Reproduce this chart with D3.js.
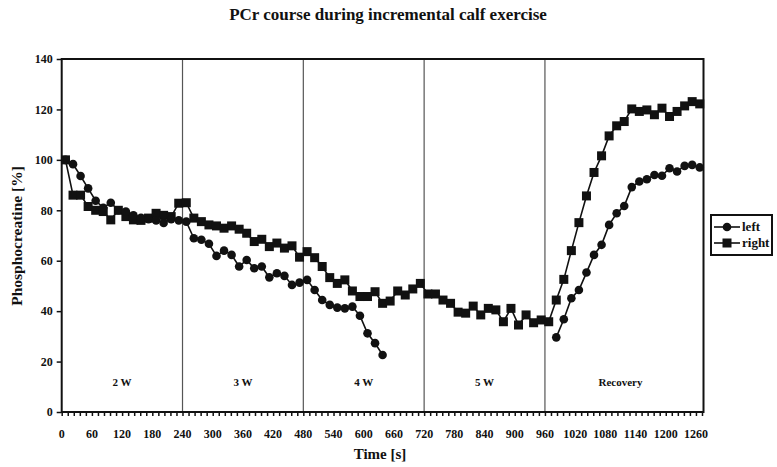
<!DOCTYPE html>
<html>
<head>
<meta charset="utf-8">
<script src="https://cdn.jsdelivr.net/npm/d3@7"></script>
<style>
  body { margin: 0; background: #fff; }
  svg text { font-family: "Liberation Serif", "Times New Roman", serif; font-weight: bold; fill: #111; }
</style>
</head>
<body>
<svg id="chart"></svg>
<script>
// data (time in s = middle of each 15 s spectrum)
let timeRight = [7.5, 22.5, 37.5, 52.5, 67.5, 82.5, 97.5, 112.5, 127.5, 142.5, 157.5, 172.5, 187.5, 202.5, 217.5, 232.5, 247.5,
  262.5, 277.5, 292.5, 307.5, 322.5, 337.5, 352.5, 367.5, 382.5, 397.5, 412.5, 427.5, 442.5, 457.5, 472.5, 487.5,
  502.5, 517.5, 532.5, 547.5, 562.5, 577.5, 592.5, 607.5, 622.5, 637.5, 652.5, 667.5, 682.5, 697.5, 712.5,
  727.5, 742.5, 757.5, 772.5, 787.5, 802.5, 817.5, 832.5, 847.5, 862.5, 877.5, 892.5, 907.5, 922.5, 937.5, 952.5, 967.5,
  982.5, 997.5, 1012.5, 1027.5, 1042.5, 1057.5, 1072.5, 1087.5, 1102.5, 1117.5, 1132.5, 1147.5, 1162.5, 1177.5, 1192.5,
  1207.5, 1222.5, 1237.5, 1252.5, 1267.5]
let pcrRight = [100, 86, 86, 81.5, 80, 79.5, 76.2, 80, 77.5, 76.2, 76, 76.9, 78.8, 78, 77.5, 82.8, 83,
  76.9, 75.5, 74.2, 73.8, 72.9, 73.8, 72.5, 70.9, 67.6, 68.5, 65.6, 67, 65, 65.9, 61.4, 63.6,
  61.2, 57.7, 53.3, 51, 52.4, 48, 45.8, 45.8, 47.7, 43.1, 44, 48, 46.4, 48.8, 51,
  46.8, 46.8, 44.4, 43.1, 39.6, 39.2, 42, 38.5, 41.1, 40.5, 35.8, 41.1, 34.5, 38.5, 35.4, 36.5, 35.8,
  44.4, 52.6, 64, 75.1, 85.7, 95, 101.6, 109.5, 113.5, 115.2, 120.2, 119.2, 119.8, 117.9, 120.5,
  117.2, 119.2, 121.4, 123.1, 122.2]

// left leg: exercise part stops at ~640 s, recovery starts at ~980 s (null = gap)
let timeLeft = [7.5, 22.5, 37.5, 52.5, 67.5, 82.5, 97.5, 112.5, 127.5, 142.5, 157.5, 172.5, 187.5, 202.5, 217.5, 232.5, 247.5,
  262.5, 277.5, 292.5, 307.5, 322.5, 337.5, 352.5, 367.5, 382.5, 397.5, 412.5, 427.5, 442.5, 457.5, 472.5, 487.5,
  502.5, 517.5, 532.5, 547.5, 562.5, 577.5, 592.5, 607.5, 622.5, 637.5,
  800,
  982.5, 997.5, 1012.5, 1027.5, 1042.5, 1057.5, 1072.5, 1087.5, 1102.5, 1117.5, 1132.5, 1147.5, 1162.5, 1177.5, 1192.5,
  1207.5, 1222.5, 1237.5, 1252.5, 1267.5]
let pcrLeft = [100, 98.3, 93.6, 88.7, 83.8, 81, 83, 80, 79.5, 78, 77, 76.5, 76, 75, 76.5, 76, 75.5,
  68.9, 68.3, 66.7, 61.9, 64, 62.3, 57.7, 60.3, 57, 57.7, 53.4, 55, 54, 50.4, 51.3, 52.4,
  48.4, 44.4, 42.5, 41.4, 41.1, 41.8, 38.2, 31.2, 27.3, 22.6,
  null,
  29.6, 36.8, 45.1, 48.4, 55.3, 62.3, 66.3, 74.2, 78.8, 81.7, 89.2, 91.4, 92.3, 94, 93.7,
  96.7, 95.4, 97.6, 98, 97]

let phaseEdges = [240, 480, 720, 960]
let phaseLabels = ['2 W', '3 W', '4 W', '5 W', 'Recovery']
let phaseMids = [120, 360, 600, 840, 1110]
let xTickLabels = [0, 60, 120, 180, 240, 300, 360, 420, 480, 540, 600, 660, 720, 780, 840, 900, 960, 1020, 1080, 1140, 1200, 1260]
let yTickLabels = [0, 20, 40, 60, 80, 100, 120, 140]

// canvas
let width = 777
let height = 467
let plot = { left: 61.7, right: 703.5, top: 59, bottom: 412 }

let svg = d3.select('#chart').attr('width', width).attr('height', height)

let xScale = d3.scaleLinear().domain([0, 1275]).range([plot.left, plot.right])
let yScale = d3.scaleLinear().domain([0, 140]).range([plot.bottom, plot.top])

// title
svg.append('text')
  .attr('x', 388).attr('y', 20)
  .attr('text-anchor', 'middle')
  .style('font-size', '17px')
  .text('PCr course during incremental calf exercise')

// phase dividers
svg.selectAll('.divider')
  .data(phaseEdges)
  .enter()
  .append('line')
  .attr('class', 'divider')
  .attr('x1', d => xScale(d)).attr('x2', d => xScale(d))
  .attr('y1', plot.top).attr('y2', plot.bottom)
  .attr('stroke', '#555').attr('stroke-width', 1.2)

svg.selectAll('.phase')
  .data(phaseLabels)
  .enter()
  .append('text')
  .attr('class', 'phase')
  .attr('x', (d, i) => xScale(phaseMids[i]))
  .attr('y', 386)
  .attr('text-anchor', 'middle')
  .style('font-size', '11px')
  .text(d => d)

// axes
let xAxis = d3.axisBottom(xScale)
  .tickValues(d3.range(0, 1273, 12))
  .tickSize(4)
  .tickFormat('')
let gx = svg.append('g')
  .attr('transform', `translate(0,${plot.bottom})`)
  .call(xAxis)
gx.select('.domain').remove()
gx.selectAll('line').attr('stroke', '#111').attr('stroke-width', 1.5)

svg.selectAll('.xlab')
  .data(xTickLabels)
  .enter()
  .append('text')
  .attr('class', 'xlab')
  .attr('x', d => xScale(d))
  .attr('y', 438)
  .attr('text-anchor', 'middle')
  .style('font-size', '12px')
  .text(d => d)

let yAxis = d3.axisLeft(yScale)
  .tickValues(yTickLabels)
  .tickSize(5)
  .tickPadding(4)
let gy = svg.append('g')
  .attr('transform', `translate(${plot.left},0)`)
  .call(yAxis)
gy.select('.domain').remove()
gy.selectAll('line').attr('stroke', '#111').attr('stroke-width', 1.5)
gy.selectAll('text')
  .style('font-family', '"Liberation Serif", serif')
  .style('font-weight', 'bold')
  .style('font-size', '12px')
  .attr('fill', '#111')

// frame
svg.append('rect')
  .attr('x', plot.left).attr('y', plot.top)
  .attr('width', plot.right - plot.left)
  .attr('height', plot.bottom - plot.top)
  .attr('fill', 'none')
  .attr('stroke', '#111').attr('stroke-width', 2)

// axis titles
svg.append('text')
  .attr('x', 380).attr('y', 459)
  .attr('text-anchor', 'middle')
  .style('font-size', '15px')
  .text('Time [s]')

svg.append('text')
  .attr('transform', 'translate(22,236) rotate(-90)')
  .attr('text-anchor', 'middle')
  .style('font-size', '15.5px')
  .text('Phosphocreatine [%]')

// series
let rightData = timeRight.map((t, i) => ({ t: t, v: pcrRight[i] }))
let leftData = timeLeft.map((t, i) => ({ t: t, v: pcrLeft[i] }))

let line = d3.line()
  .defined(d => d.v !== null)
  .x(d => xScale(d.t))
  .y(d => yScale(d.v))

svg.append('path').datum(rightData)
  .attr('d', line).attr('fill', 'none')
  .attr('stroke', '#111').attr('stroke-width', 1.6)
svg.append('path').datum(leftData)
  .attr('d', line).attr('fill', 'none')
  .attr('stroke', '#111').attr('stroke-width', 1.6)

let sq = 9
svg.selectAll('.sq')
  .data(rightData)
  .enter()
  .append('rect')
  .attr('class', 'sq')
  .attr('x', d => xScale(d.t) - sq / 2)
  .attr('y', d => yScale(d.v) - sq / 2)
  .attr('width', sq).attr('height', sq)
  .attr('fill', '#111')

svg.selectAll('.dot')
  .data(leftData.filter(d => d.v !== null))
  .enter()
  .append('circle')
  .attr('class', 'dot')
  .attr('cx', d => xScale(d.t))
  .attr('cy', d => yScale(d.v))
  .attr('r', 4.3)
  .attr('fill', '#111')

// legend
let legend = svg.append('g').attr('transform', 'translate(711,215)')
legend.append('rect')
  .attr('width', 61).attr('height', 40)
  .attr('fill', '#fff')
  .attr('stroke', '#111').attr('stroke-width', 2)
let legendItems = ['left', 'right']
legendItems.forEach((name, i) => {
  let y = 12 + i * 16
  legend.append('line')
    .attr('x1', 3).attr('x2', 29).attr('y1', y).attr('y2', y)
    .attr('stroke', '#111').attr('stroke-width', 1.6)
  if (i === 0) {
    legend.append('circle').attr('cx', 16).attr('cy', y).attr('r', 4.3).attr('fill', '#111')
  } else {
    legend.append('rect').attr('x', 16 - sq / 2).attr('y', y - sq / 2)
      .attr('width', sq).attr('height', sq).attr('fill', '#111')
  }
  legend.append('text')
    .attr('x', 31).attr('y', y + 4)
    .style('font-size', '13px')
    .text(name)
})
</script>
</body>
</html>
